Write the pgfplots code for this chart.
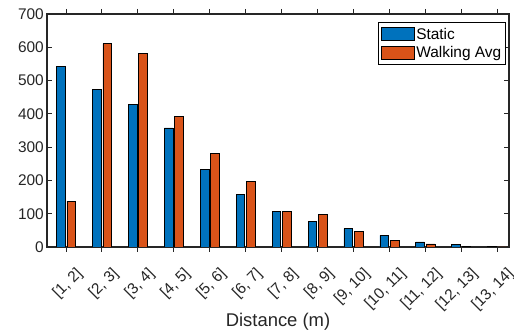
\documentclass[border=0pt]{standalone}
\usepackage{pgfplots}
\pgfplotsset{compat=1.18}
\usepackage{fontspec}
\setmainfont{Liberation Sans}
\usetikzlibrary{calc}
\definecolor{mblue}{rgb}{0,0.447,0.741}
\definecolor{morange}{rgb}{0.85,0.325,0.098}
\definecolor{axc}{rgb}{0.15,0.15,0.15}
\begin{document}
\begin{tikzpicture}
\begin{axis}[
  scale only axis,
  width=462bp, height=233bp,
  xmin=-0.53, xmax=12.33,
  ymin=0, ymax=700,
  ytick={0,100,...,700},
  xtick={0,...,12},
  xticklabels={{[1, 2]},{[2, 3]},{[3, 4]},{[4, 5]},{[5, 6]},{[6, 7]},{[7, 8]},{[8, 9]},{[9, 10]},{[10, 11]},{[11, 12]},{[12, 13]},{[13, 14]}},
  xticklabel style={xshift=9bp, yshift=-14bp, rotate=45, anchor=north east, inner sep=0pt, font=\fontsize{15.5}{17}\selectfont, text=axc},
  yticklabel style={font=\fontsize{15.5}{17}\selectfont, text=axc, inner sep=1bp, xshift=-2bp},
  /pgf/number format/assume math mode=true,
  tick align=inside,
  major tick length=5bp,
  tick style={axc, line width=1bp},
  axis line style={axc, line width=1.2bp},
  xlabel={Distance (m)},
  xlabel style={at={(axis description cs:0.5,0)}, anchor=base, yshift=-80bp, font=\fontsize{18.5}{20}\selectfont, text=axc},
  ybar, bar width=0.24,
  legend style={at={(0.994,0.966)}, anchor=north east, draw=black, line width=1bp, font=\fontsize{15.5}{17}\selectfont, inner xsep=3bp, inner ysep=4bp, nodes={inner sep=1.5bp}, row sep=3bp, legend cell align=left},
  legend image code/.code={\draw[#1, line width=0.6bp] (0bp,-6.5bp) rectangle (33bp,6.5bp);},
]
\addplot[fill=mblue, draw=black, line width=0.6bp, bar shift=-0.145] coordinates {
(0,543) (1,473) (2,428) (3,358) (4,233) (5,158) (6,107) (7,77) (8,55) (9,35) (10,15) (11,7) (12,1)};
\addplot[fill=morange, draw=black, line width=0.6bp, bar shift=0.145] coordinates {
(0,138) (1,611) (2,582) (3,392) (4,281) (5,198) (6,108) (7,97) (8,48) (9,20) (10,9) (11,2) (12,0.5)};
\legend{Static, Walking Avg}
\end{axis}
\pgfresetboundingbox
\path ($(current axis.south west)+(-47bp,-84bp)$) rectangle ($(current axis.north east)+(5bp,14bp)$);
\end{tikzpicture}
\end{document}
